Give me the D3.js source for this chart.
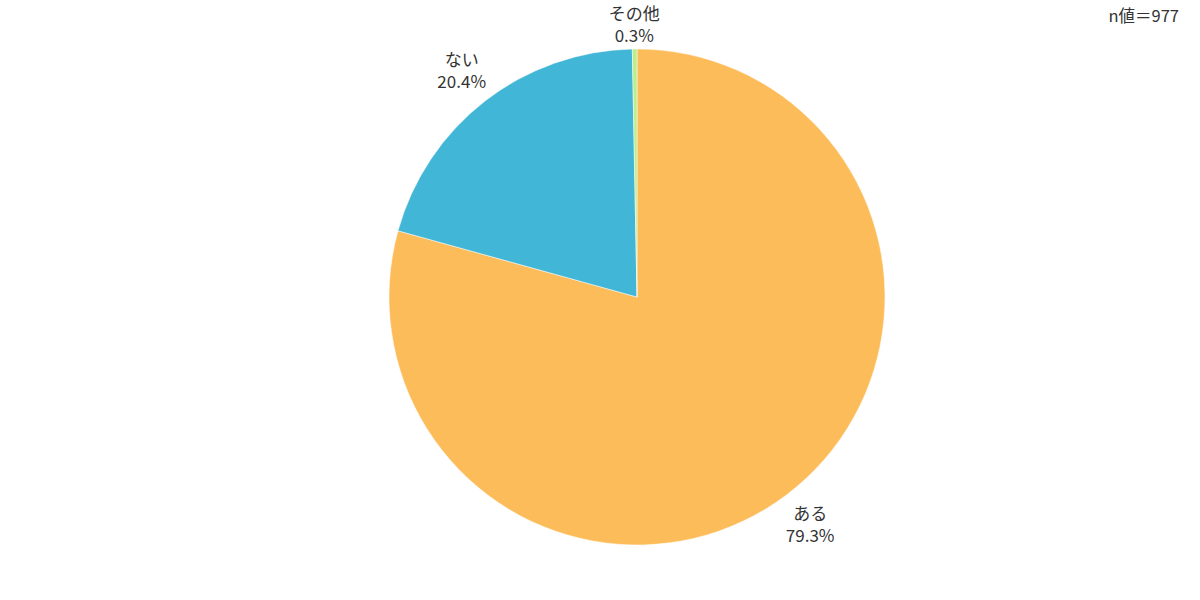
<!DOCTYPE html>
<html>
  <head>
    <meta charset="UTF-8">
    <style>
      body {
        margin: 0;
        background: white;
        font-family: "Noto Sans CJK JP", "Noto Sans", sans-serif;
      }

      .label text {
        fill: #333;
        font-size: 17px;
      }
    </style>
    <script src="https://d3js.org/d3.v7.min.js"></script>
  </head>

  <body>
    <svg id="pie-chart"></svg>

    <script type="text/javascript">
      const categories = ['ある', 'ない', 'その他']
      const percents = [79.3, 20.4, 0.3]
      const colors = ['#FDBC5A', '#41B6D6', '#B9F08C']
      const sampleLabel = 'n値＝977'

      function getChartConfig() {
        let width = 1200
        let height = 600
        let center = { x: 637, y: 297 }
        let radius = 248
        let labelRadius = 286

        let container = d3.select('#pie-chart')
          .attr('width', width)
          .attr('height', height)

        return { width, height, center, radius, labelRadius, container }
      }

      function drawPie(config) {
        let data = categories.map((c, i) => ({ name: c, value: percents[i], color: colors[i] }))

        let pie = d3.pie()
          .sort(null)
          .value(d => d.value)

        let arcs = pie(data)

        let arc = d3.arc()
          .innerRadius(0)
          .outerRadius(config.radius)

        let g = config.container
          .append('g')
          .attr('transform', `translate(${config.center.x}, ${config.center.y})`)

        g.selectAll('path')
          .data(arcs)
          .join('path')
            .attr('d', arc)
            .attr('fill', d => d.data.color)
            .attr('stroke', 'white')
            .attr('stroke-width', 0.5)

        let labelArc = d3.arc()
          .innerRadius(config.labelRadius)
          .outerRadius(config.labelRadius)

        let labels = g.append('g')
          .attr('class', 'label')
          .selectAll('g')
          .data(arcs)
          .join('g')
            .attr('transform', d => {
              let [x, y] = labelArc.centroid(d)
              // keep the top label inside the picture
              y = Math.max(y, -config.center.y + 25)
              return `translate(${x}, ${y})`
            })

        labels.append('text')
          .attr('text-anchor', 'middle')
          .attr('y', -5)
          .text(d => d.data.name)

        labels.append('text')
          .attr('text-anchor', 'middle')
          .attr('y', 17)
          .text(d => `${d.data.value}%`)
      }

      function drawSample(config) {
        config.container
          .append('text')
          .attr('x', config.width - 21)
          .attr('y', 22)
          .attr('text-anchor', 'end')
          .attr('fill', '#333')
          .style('font-size', '16.5px')
          .text(sampleLabel)
      }

      let config = getChartConfig()
      drawPie(config)
      drawSample(config)
    </script>
  </body>
</html>
